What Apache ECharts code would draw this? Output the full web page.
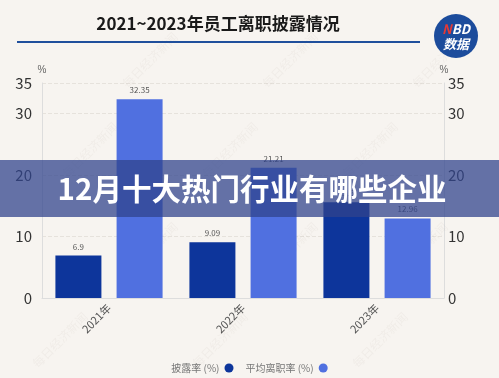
<!DOCTYPE html>
<html><head><meta charset="utf-8">
<script src="https://cdn.jsdelivr.net/npm/echarts@6/dist/echarts.min.js"></script>
<style>html,body{margin:0;padding:0;background:#f7f4f0;}#c{width:499px;height:378px;}</style>
</head><body><div id="c"></div>
<script>
const categories = ['2021年', '2022年', '2023年'];
const disclosureRate = [6.9, 9.09, 15.6];
const avgTurnover = [32.35, 21.21, 12.96];
const seriesNames = ['披露率 (%)', '平均离职率 (%)'];
const titleText = '2021~2023年员工离职披露情况';
const bannerText = '12月十大热门行业有哪些企业';

const chart = echarts.init(document.getElementById('c'), null, {renderer: 'canvas'});
const font = '"Noto Sans CJK SC", "Noto Sans", sans-serif';
const wm = [];
[[150,60],[290,60],[440,60],[90,150],[230,150],[370,150],[150,250],[290,250],[420,250],[60,340],[220,340],[380,340]].forEach(p=>{
  wm.push({type:'text', x:p[0], y:p[1], rotation:Math.PI/4, z:1, silent:true,
    style:{text:'每日经济新闻', fill:'rgba(160,150,140,0.08)', font:'12px '+font, align:'center', verticalAlign:'middle'}});
});
chart.setOption({
  backgroundColor: '#f7f4f0',
  animation: false,
  grid: {left: 42, right: 55, top: 83, bottom: 80},
  legend: {
    top: 358, left: 'center', align: 'right', itemGap: 12,
    icon: 'circle', itemWidth: 9, itemHeight: 9,
    textStyle: {color: '#777', fontSize: 10, fontFamily: font},
    data: seriesNames
  },
  xAxis: {
    type: 'category', data: categories,
    axisLine: {show: true, lineStyle: {color: '#ddd'}},
    axisTick: {show: false},
    axisLabel: {rotate: 45, color: '#555', fontSize: 11, fontFamily: font, margin: 8}
  },
  yAxis: [
    {type: 'value', min: 0, max: 35, interval: 10, position: 'left',
     name: '%', nameGap: 8, nameTextStyle: {color: '#666', fontSize: 10, align: 'center'},
     axisLine: {show: true, lineStyle: {color: '#ddd'}},
     axisTick: {show: false},
     axisLabel: {color: '#333', fontSize: 15, fontFamily: font, margin: 10},
     splitLine: {show: true, lineStyle: {color: '#e6e2dc', type: 'dashed'}}},
    {type: 'value', min: 0, max: 35, interval: 10, position: 'right',
     name: '%', nameGap: 8, nameTextStyle: {color: '#666', fontSize: 10, align: 'center'},
     axisLine: {show: true, lineStyle: {color: '#ddd'}},
     axisTick: {show: false},
     axisLabel: {color: '#333', fontSize: 15, fontFamily: font, margin: 4},
     splitLine: {show: false}}
  ],
  series: [
    {name: seriesNames[0], type: 'bar', data: disclosureRate, barWidth: 46, barGap: '33%',
     itemStyle: {color: '#0d359b'},
     label: {show: true, position: 'top', color: '#555', fontSize: 8, fontFamily: font}},
    {name: seriesNames[1], type: 'bar', data: avgTurnover, barWidth: 46,
     itemStyle: {color: '#5070e0'},
     label: {show: true, position: 'top', color: '#555', fontSize: 8, fontFamily: font}}
  ],
  graphic: wm.concat([
    {type: 'text', x: 218, y: 24, z: 10, style: {text: titleText, fill: '#1a1a1a', font: 'bold 17px ' + font, align: 'center', verticalAlign: 'middle'}},
    {type: 'rect', shape: {x: 17, y: 41, width: 403, height: 2}, z: 10, style: {fill: '#1f4f9c'}},
    {type: 'circle', shape: {cx: 456, cy: 36, r: 22}, z: 10, style: {fill: '#1c4c9c'}},
    {type: 'text', x: 456, y: 29, z: 11, style: {text: '{n|N}{b|BD}', align: 'center', verticalAlign: 'middle',
      rich: {n: {fill: '#e53935', font: 'bold italic 13px ' + font}, b: {fill: '#fff', font: 'bold italic 13px ' + font}}}},
    {type: 'text', x: 456, y: 44, z: 11, style: {text: '数据', fill: '#fff', font: 'bold italic 13px ' + font, align: 'center', verticalAlign: 'middle'}},
    {type: 'rect', shape: {x: 0, y: 160, width: 499, height: 57}, z: 100, style: {fill: 'rgba(48,68,140,0.74)'}},
    {type: 'text', x: 252, y: 189, z: 101, style: {text: bannerText, fill: '#fff', font: 'bold 29.5px ' + font,
      align: 'center', verticalAlign: 'middle', shadowColor: 'rgba(0,0,0,0.35)', shadowBlur: 3, shadowOffsetX: 1, shadowOffsetY: 1}}
  ])
});
</script></body></html>
